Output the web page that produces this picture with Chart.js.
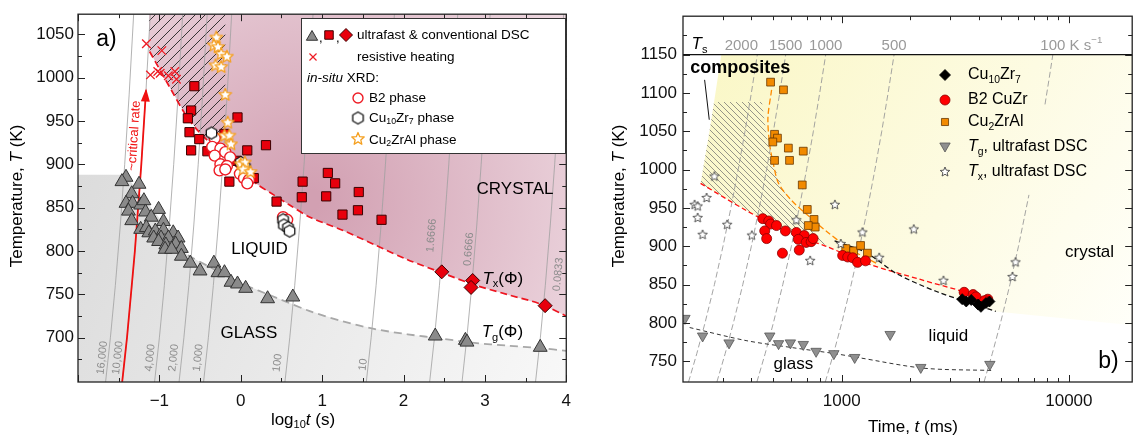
<!DOCTYPE html>
<html>
<head>
<meta charset="utf-8">
<script src="https://cdn.jsdelivr.net/npm/chart.js@4.4.0/dist/chart.umd.min.js"></script>
<style>
  html, body { margin: 0; padding: 0; background: #fff; }
  #wrap { position: relative; width: 1139px; height: 439px; overflow: hidden; }
  #boxA { position: absolute; left: 0; top: 0; width: 580px; height: 439px; }
  #boxB { position: absolute; left: 580px; top: 0; width: 559px; height: 439px; }
</style>
</head>
<body>
<div id="wrap">
  <div id="boxA"><canvas id="chartA"></canvas></div>
  <div id="boxB"><canvas id="chartB"></canvas></div>
</div>
<script>
const FONT = '"Liberation Sans", Arial, Helvetica, sans-serif';
const T_ROOM = 300; // heating starts from room temperature (K)

// ---------- panel a: log10 t (s) vs T (K) ----------
const xTicksA = [-1, 0, 1, 2, 3, 4];
const yTicksA = [700, 750, 800, 850, 900, 950, 1000, 1050];

// glass transition, ultrafast & conventional DSC (triangles)
const tgDscA = [[-1.41,885],[-1.46,880],[-1.25,877],[-1.34,866],[-1.41,855],[-1.33,855],[-1.23,853],[-1.19,858],
  [-1.38,846],[-1.17,845],[-1.01,848],[-1.34,835],[-1.10,839],[-0.95,834],[-1.23,825],[-1.16,827],[-1.13,821],
  [-1.05,823],[-0.95,824],[-0.83,821],[-1.07,815],[-0.98,815],[-0.89,815],[-0.77,815],[-1.01,811],[-0.92,807],
  [-0.80,808],[-0.73,803],[-0.93,802],[-0.85,802],[-0.73,794],[-0.62,786],[-0.33,786],[-0.50,777],[-0.28,775],
  [-0.20,775],[-0.12,764],[-0.04,762],[0.06,757],[0.33,745],[0.64,747],[2.39,702],[2.76,697],[2.78,695],[3.68,689]];
// crystallisation, ultrafast DSC (squares)
const txDscA = [[-0.57,990],[-0.61,962],[-0.65,953],[-0.63,937],[-0.51,929],[-0.61,916],[-0.41,915],[-0.20,935],
  [-0.04,954],[0.08,916],[0.31,922],[-0.05,904],[-0.14,880],[0.16,884],[0.44,857],[0.76,880],[0.75,862],
  [1.07,890],[1.16,878],[1.05,863],[1.45,868],[1.25,842],[1.44,847],[1.73,836]];
// crystallisation, conventional DSC (diamonds)
const txConvA = [[2.47,776],[2.85,766],[2.83,758],[3.74,737]];
const resistiveA = [[-1.16,1039],[-0.97,1031],[-1.11,1003],[-1.02,1007],[-0.99,1005],[-0.89,1002],[-0.81,1007],[-0.79,998]];
const b2XrdA = [[-0.32,930],[-0.35,920],[-0.25,918],[-0.32,910],[-0.19,914],[-0.13,908],[-0.25,900],[-0.17,898],
  [-0.26,893],[-0.19,894],[-0.01,889],[0.04,884],[0.10,882],[0.08,878],[0.52,839],[0.57,836]];
const cu10zr7XrdA = [[-0.36,936],[0.0,902],[0.05,897],[0.52,836],[0.53,830],[0.58,827],[0.60,823]];
const cu2zralXrdA = [[-0.30,1046],[-0.33,1037],[-0.28,1035],[-0.24,1027],[-0.17,1024],[-0.31,1014],[-0.24,1012],
  [-0.19,980],[-0.16,948],[-0.20,933],[-0.14,933],[-0.12,923],[0.0,900],[0.05,902],[0.03,894],[0.12,891]];

const txCurveA = [[-1.12,1030],[-0.85,985],[-0.69,959],[-0.53,939],[-0.3,918],[0,893],[0.2,877],[0.4,865],
  [0.6,853],[0.85,839],[1.25,824],[1.65,807],[2.05,790],[2.47,775],[2.87,761],[3.27,750],[3.68,739],[4.0,725]];
const tgCurveA = [[-0.65,795],[-0.37,781],[0,763],[0.44,746],[0.84,731],[1.25,719],[1.65,710],[2.05,704],
  [2.47,699],[2.87,694],[3.27,691],[3.68,688],[4.0,685]];
const glassEdgeA = [[-2,888],[-1.42,888],[-1.2,862],[-0.95,832]];
const crystalTopA = [[-1.13,1073]];
const hatchA = [[-1.13,1073],[-0.19,1073],[-0.19,932],[-0.45,930],[-0.53,939],[-0.69,959],[-0.85,985],[-1.12,1030],[-1.13,1073]];

// constant heating rates (K/s)
const ratesA = [16000, 10000, 4000, 2000, 1000, 100, 10, 1.6666, 0.6666, 0.0833];
const rateTextA = ['16,000', '10,000', '4,000', '2,000', '1,000', '100', '10', '1.6666', '0.6666', '0.0833'];
const rateLabelTA = [677, 677, 677, 677, 677, 671, 669, 818, 802, 773];
const rateLabelDxA = [-6, -7, -7, -8, -8, -9.5, -5, -12, -6, 12];
const isoTempsA = [649, 700, 760, 830, 900, 980, 1073];
const criticalRateA = 10000;
const criticalTempsA = [649, 700, 800, 900, 985];

// ---------- panel b: time (ms) vs T (K) ----------
const xTicksB = [1000, 10000];
const xMinorB = [300, 400, 500, 600, 700, 800, 900, 2000, 3000, 4000, 5000, 6000, 7000, 8000, 9000];
const yTicksB = [750, 800, 850, 900, 950, 1000, 1050, 1100, 1150];
const tSolidus = 1150;

const cu10zr7B = [[3390,831],[3532,828],[3715,830],[3981,824],[4100,821],[4315,826],[4470,828]];
const b2CuZrB = [[449,936],[477,933],[486,929],[516,927],[458,920],[565,920],[467,910],[631,918],[684,914],
  [644,909],[697,905],[733,906],[748,910],[548,891],[650,895],[1009,888],[1062,886],[1117,885],[1174,879],
  [1272,881],[3458,840],[3787,837],[3900,834],[4396,831],[4250,829]];
const cu2zralB = [[486,1114],[554,1104],[506,1046],[521,1041],[497,1036],[582,1028],[677,1024],[506,1012],
  [589,1012],[670,980],[705,948],[755,935],[764,925],[712,927],[1041,897],[1128,894],[1210,901],[1297,891]];
const tgUltraB = [[204,806],[244,783],[319,774],[482,783],[527,773],[594,774],[677,772],[771,763],[923,760],
  [1140,755],[1633,785],[2228,742],[4488,746]];
const txUltraB = [[275,991],[254,963],[225,954],[232,952],[232,937],[313,928],[244,915],[402,914],[631,934],
  [726,881],[933,954],[1233,918],[990,903],[1462,885],[2075,922],[2805,855],[5821,879],[5646,860]];

const b2CurveB = [[239,982],[378,947],[582,918],[869,899],[1337,876],[2200,857],[3428,841],[4445,831]];
const cu10zr7CurveB = [[930,907],[1259,893],[1435,882],[1751,864],[2614,841],[4766,815]];
const cu2zralCurveB = [[491,1104],[473,1067],[482,1032],[501,1006],[527,982],[600,960],[711,940],[869,918],[1094,896],[1435,877]];
const tgCurveB = [[214,794],[379,777],[600,768],[932,760],[1174,755],[2296,741],[4678,738]];
const crystalB = [[239,982],[265,1060],[295,1150],[19000,1150],[19000,797],[4766,815],[2614,841],[1751,864],
  [1337,876],[869,899],[582,918],[378,947],[239,982]];
const hatchB = [[239,982],[265,1060],[274,1088],[445,1088],[468,1042],[501,1006],[565,968],[644,943],[748,920],
  [880,900],[582,918],[378,947],[239,982]];
const pointerB = [[249,1117],[261,1065]];

const ratesB = [2000, 1500, 1000, 500, 100];
const rateTextB = ['2000', '1500', '1000', '500', '100'];
const rateLabelDxB = [-16, 0, 0, 0, 0];
const isoTempsB = [723, 760, 800, 850, 900, 950, 1000, 1050, 1100, 1150];
const isoGapB = { rate: 100, from: 967, to: 1085 }; // hidden behind the legend

// ---------- helpers ----------
const xy = pts => pts.map(([x, y]) => ({ x, y }));

function markers(pts, style, r, fill, stroke, lw, order, rot) {
  return { data: xy(pts), showLine: false, pointStyle: style, pointRadius: r, pointBackgroundColor: fill,
    pointBorderColor: stroke, pointBorderWidth: lw, pointRotation: rot || 0, order };
}
function curve(pts, color, lw, dash, order, tension) {
  return { data: xy(pts), borderColor: color, borderWidth: lw, borderDash: dash || [], pointRadius: 0,
    fill: false, tension: tension || 0, order };
}
function area(pts, bg, fill, order) {
  return { data: xy(pts), borderWidth: 0, borderColor: 'rgba(0,0,0,0)', backgroundColor: bg,
    pointRadius: 0, fill, tension: 0, order };
}
function isoLine(rate, temps, ms) {
  return temps.map(T => [ms ? (T - T_ROOM) / rate * 1000 : Math.log10((T - T_ROOM) / rate), T]);
}

function hatch(gap, color, lw, rising) {
  const c = document.createElement('canvas');
  c.width = c.height = gap;
  const g = c.getContext('2d');
  g.strokeStyle = color;
  g.lineWidth = lw;
  g.beginPath();
  if (rising) {
    g.moveTo(0, gap); g.lineTo(gap, 0);
    g.moveTo(-1, 1); g.lineTo(1, -1);
    g.moveTo(gap - 1, gap + 1); g.lineTo(gap + 1, gap - 1);
  } else {
    g.moveTo(0, 0); g.lineTo(gap, gap);
    g.moveTo(-1, gap - 1); g.lineTo(1, gap + 1);
    g.moveTo(gap - 1, -1); g.lineTo(gap + 1, 1);
  }
  g.stroke();
  return g.createPattern(c, 'repeat');
}

function polyImage(n, r, inner, fill, stroke, lw) {
  const s = Math.ceil(2 * r + 2 * lw + 2);
  const c = document.createElement('canvas');
  c.width = c.height = s;
  const g = c.getContext('2d');
  const m = s / 2;
  const k = inner ? 2 * n : n;
  g.beginPath();
  for (let i = 0; i < k; i++) {
    const rr = inner && i % 2 ? r * inner : r;
    const a = -Math.PI / 2 + i * 2 * Math.PI / k;
    g.lineTo(m + rr * Math.cos(a), m + rr * Math.sin(a));
  }
  g.closePath();
  g.fillStyle = fill; g.fill();
  g.strokeStyle = stroke; g.lineWidth = lw; g.lineJoin = 'round'; g.stroke();
  return c;
}

function drawRich(ctx, parts, x, y, o) {
  const size = o.size;
  const fontFor = st => {
    const small = st.includes('sub') || st.includes('sup');
    return (st.includes('i') && !st.startsWith('s') || st.startsWith('is') ? 'italic ' : '') +
      (st.includes('b') && !st.includes('sub') ? 'bold ' : '') + (small ? size * 0.65 : size) + 'px ' + FONT;
  };
  let w = 0;
  parts.forEach(p => { ctx.font = fontFor(p[1]); w += ctx.measureText(p[0]).width; });
  ctx.save();
  ctx.translate(x, y);
  if (o.rotate) ctx.rotate(o.rotate);
  let cx = o.align === 'center' ? -w / 2 : o.align === 'right' ? -w : 0;
  ctx.textBaseline = 'middle';
  ctx.textAlign = 'left';
  ctx.fillStyle = o.color || '#000';
  parts.forEach(p => {
    ctx.font = fontFor(p[1]);
    const dy = p[1].includes('sub') ? size * 0.3 : p[1].includes('sup') ? -size * 0.35 : 0;
    ctx.fillText(p[0], cx, dy);
    cx += ctx.measureText(p[0]).width;
  });
  ctx.restore();
}

function legendMarker(ctx, style, r, fill, stroke, lw, x, y, rot) {
  ctx.save();
  ctx.fillStyle = fill;
  ctx.strokeStyle = stroke;
  ctx.lineWidth = lw;
  Chart.helpers.drawPoint(ctx, { pointStyle: style, radius: r, rotation: rot || 0, borderWidth: lw }, x, y);
  ctx.restore();
}

// frame with inward major / minor ticks on all four sides
const frameTicks = {
  id: 'frameTicks',
  afterDatasetsDraw(chart, args, opts) {
    const { ctx, chartArea: a, scales: { x, y } } = chart;
    ctx.save();
    ctx.strokeStyle = '#222';
    ctx.lineWidth = 1.3;
    ctx.strokeRect(a.left, a.top, a.right - a.left, a.bottom - a.top);
    ctx.lineWidth = 1;
    ctx.beginPath();
    const mark = (vals, len, isX) => vals.forEach(v => {
      if (isX) {
        const p = Math.round(x.getPixelForValue(v)) + 0.5;
        ctx.moveTo(p, a.bottom); ctx.lineTo(p, a.bottom - len);
        ctx.moveTo(p, a.top); ctx.lineTo(p, a.top + len);
      } else {
        const p = Math.round(y.getPixelForValue(v)) + 0.5;
        ctx.moveTo(a.left, p); ctx.lineTo(a.left + len, p);
        ctx.moveTo(a.right, p); ctx.lineTo(a.right - len, p);
      }
    });
    mark(opts.xMajor, 7, true);
    mark(opts.xMinor, 4, true);
    mark(opts.yMajor, 7, false);
    mark(opts.yMinor, 4, false);
    ctx.stroke();
    ctx.restore();
  }
};

function scaleOpts(min, max, ticks, fmt, size, pad, fit, type) {
  return {
    type: type || 'linear', min, max,
    grid: { display: false, drawTicks: false }, border: { display: false },
    ticks: { font: { family: FONT, size }, color: '#111', padding: pad, autoSkip: false, maxRotation: 0, callback: fmt },
    afterBuildTicks: s => { s.ticks = ticks.map(v => ({ value: v })); },
    afterFit: fit
  };
}

// ---------- chart a ----------
const starOrange = polyImage(5, 6.5, 0.45, '#fff', '#f5a020', 1.3);
const hexBlack = polyImage(6, 6, 0, '#fff', '#111', 1.3);
const patternA = hatch(10, '#222', 0.9, true);

const pinkFill = c => {
  const a = c.chart.chartArea;
  if (!a) return 'rgba(0,0,0,0)';
  const g = c.chart.ctx.createRadialGradient(310, 200, 10, 310, 200, 380);
  g.addColorStop(0, 'rgb(210,160,178)');
  g.addColorStop(1, 'rgb(243,228,234)');
  return g;
};
const greyFill = c => {
  const a = c.chart.chartArea;
  if (!a) return 'rgba(0,0,0,0)';
  const g = c.chart.ctx.createLinearGradient(a.left, 180, a.right, a.bottom);
  g.addColorStop(0, 'rgb(220,220,220)');
  g.addColorStop(1, 'rgb(248,248,248)');
  return g;
};

const datasetsA = [
  area(crystalTopA.concat(txCurveA), pinkFill, 'end', 100),
  area(glassEdgeA.concat(tgCurveA), greyFill, 'start', 99),
  area(hatchA, patternA, 'shape', 98),
  ...ratesA.map(r => curve(isoLine(r, isoTempsA), '#a0a0a0', 0.8, [], 90)),
  curve(isoLine(criticalRateA, criticalTempsA), '#f01010', 1.8, [], 80),
  curve(tgCurveA, '#a8a8a8', 1.8, [8, 5], 70, 0.3),
  curve(txCurveA, '#ee1520', 1.7, [7, 4], 70, 0.3),
  markers(tgDscA, 'triangle', 8, '#8a8a8a', '#333', 1, 20),
  markers(txDscA, 'rect', 6.5, '#e8000c', '#3a0000', 1, 19),
  markers(txConvA, 'rectRot', 7, '#e8000c', '#3a0000', 1, 18),
  markers(resistiveA, 'crossRot', 6, '#ee1c25', '#ee1c25', 1.3, 17),
  markers(b2XrdA, 'circle', 5.5, '#fff', '#ee1c25', 1.4, 16),
  markers(cu10zr7XrdA, hexBlack, 6, '#fff', '#111', 1, 15),
  markers(cu2zralXrdA, starOrange, 6, '#fff', '#f5a020', 1, 14)
];

const decorA = {
  id: 'decorA',
  afterDatasetsDraw(chart) {
    const { ctx, scales: { x, y } } = chart;
    const P = (a, b) => [x.getPixelForValue(a), y.getPixelForValue(b)];
    const alongRate = (rate, T) => {
      const p0 = P(Math.log10((T - 10 - T_ROOM) / rate), T - 10);
      const p1 = P(Math.log10((T + 10 - T_ROOM) / rate), T + 10);
      return { c: P(Math.log10((T - T_ROOM) / rate), T), ang: Math.atan2(p1[1] - p0[1], p1[0] - p0[0]) };
    };

    // rate labels along the iso-rate lines
    ratesA.forEach((r, i) => {
      const { c, ang } = alongRate(r, rateLabelTA[i]);
      drawRich(ctx, [[rateTextA[i], '']], c[0] + rateLabelDxA[i], c[1], { size: 11, color: '#8c8c8c', align: 'center', rotate: ang });
    });

    // arrow head of the critical-rate line
    const tTop = criticalTempsA[criticalTempsA.length - 1];
    const tip = alongRate(criticalRateA, tTop);
    ctx.save();
    ctx.translate(tip.c[0], tip.c[1]);
    ctx.rotate(tip.ang);
    ctx.fillStyle = '#f01010';
    ctx.beginPath();
    ctx.moveTo(2, 0); ctx.lineTo(-11, -4.5); ctx.lineTo(-11, 4.5); ctx.closePath();
    ctx.fill();
    ctx.restore();
    const lab = alongRate(criticalRateA, 933);
    drawRich(ctx, [['~critical rate', '']], lab.c[0] - 9, lab.c[1], { size: 13, color: '#f01010', align: 'center', rotate: lab.ang });

    // region and curve labels
    const t = (parts, a, b, o) => { const p = P(a, b); drawRich(ctx, parts, p[0], p[1], o); };
    t([['a)', '']], -1.776, 1044, { size: 23, align: 'left' });
    t([['CRYSTAL', '']], 3.37, 871, { size: 17, align: 'center' });
    t([['LIQUID', '']], 0.23, 802, { size: 17, align: 'center' });
    t([['GLASS', '']], 0.1, 705, { size: 17, align: 'center' });
    t([['T', 'i'], ['x', 'sub'], ['(Φ)', '']], 2.97, 767.5, { size: 17, align: 'left' });
    t([['T', 'i'], ['g', 'sub'], ['(Φ)', '']], 2.96, 706, { size: 17, align: 'left' });

    // legend box
    ctx.save();
    ctx.fillStyle = '#fff';
    ctx.fillRect(301, 18, 264, 135);
    ctx.strokeStyle = '#333';
    ctx.lineWidth = 1;
    ctx.strokeRect(301.5, 18.5, 264, 135);
    ctx.restore();
    legendMarker(ctx, 'triangle', 6.5, '#8a8a8a', '#333', 1, 312, 37);
    drawRich(ctx, [[',', '']], 319, 38, { size: 13 });
    legendMarker(ctx, 'rect', 6, '#e8000c', '#3a0000', 1, 329, 35);
    drawRich(ctx, [[',', '']], 336, 38, { size: 13 });
    legendMarker(ctx, 'rectRot', 6.5, '#e8000c', '#3a0000', 1, 346, 35);
    drawRich(ctx, [['ultrafast & conventional DSC', '']], 357, 35, { size: 13.5 });
    legendMarker(ctx, 'crossRot', 5, '#ee1c25', '#ee1c25', 1.2, 313, 57);
    drawRich(ctx, [['resistive heating', '']], 357, 57, { size: 13.5 });
    drawRich(ctx, [['in-situ', 'i'], [' XRD:', '']], 307, 78, { size: 13.5 });
    legendMarker(ctx, 'circle', 5, '#fff', '#ee1c25', 1.4, 358, 98);
    drawRich(ctx, [['B2 phase', '']], 369, 98, { size: 13.5 });
    legendMarker(ctx, hexBlack, 6, '#fff', '#111', 1, 358, 118);
    drawRich(ctx, [['Cu', ''], ['10', 'sub'], ['Zr', ''], ['7', 'sub'], [' phase', '']], 369, 118, { size: 13.5 });
    legendMarker(ctx, starOrange, 6, '#fff', '#f5a020', 1, 358, 139);
    drawRich(ctx, [['Cu', ''], ['2', 'sub'], ['ZrAl phase', '']], 369, 140, { size: 13.5 });

    // axis titles
    drawRich(ctx, [['Temperature, ', ''], ['T', 'i'], [' (K)', '']], 17, 196, { size: 17, align: 'center', rotate: -Math.PI / 2 });
    drawRich(ctx, [['log', ''], ['10', 'sub'], ['t', 'i'], [' (s)', '']], 303, 420, { size: 17, align: 'center' });
  }
};

new Chart(document.getElementById('chartA'), {
  type: 'line',
  data: { datasets: datasetsA },
  options: {
    responsive: true,
    maintainAspectRatio: false,
    animation: false,
    events: [],
    layout: { padding: { top: 10, right: 7, left: 0, bottom: 0 } },
    plugins: {
      legend: { display: false },
      tooltip: { enabled: false },
      frameTicks: {
        xMajor: [-2, -1, 0, 1, 2, 3, 4],
        xMinor: [-1.5, -0.5, 0.5, 1.5, 2.5, 3.5],
        yMajor: yTicksA,
        yMinor: [675, 725, 775, 825, 875, 925, 975, 1025]
      }
    },
    scales: {
      x: scaleOpts(-2, 4, xTicksA, v => (v < 0 ? '\u2212' + Math.abs(v) : String(v)), 17, 9, s => { s.height = 57; }),
      y: scaleOpts(649, 1073, yTicksA, v => String(v), 17, 4, s => { s.width = 78; })
    }
  },
  plugins: [frameTicks, decorA]
});

// ---------- chart b ----------
const starWhite = polyImage(5, 5, 0.45, '#fff', '#444', 0.9);
const patternB = hatch(6, '#6a6a6a', 0.7, false);

const yellowFill = c => {
  const a = c.chart.chartArea;
  if (!a) return 'rgba(0,0,0,0)';
  const g = c.chart.ctx.createLinearGradient(120, 60, a.right, a.bottom - 40);
  g.addColorStop(0, 'rgb(250,247,198)');
  g.addColorStop(0.55, 'rgb(253,251,226)');
  g.addColorStop(1, 'rgb(255,255,250)');
  return g;
};

const isoB = [];
ratesB.forEach(r => {
  if (r === isoGapB.rate) {
    isoB.push(isoLine(r, [723, 760, 800, 850, 900, isoGapB.from], true));
    isoB.push(isoLine(r, [isoGapB.to, 1120, 1150], true));
  } else {
    isoB.push(isoLine(r, isoTempsB, true));
  }
});

const datasetsB = [
  area(crystalB, yellowFill, 'shape', 100),
  area(hatchB, patternB, 'shape', 98),
  ...isoB.map(pts => curve(pts, '#9a9a9a', 0.9, [6, 3], 90)),
  curve([[200, tSolidus], [19000, tSolidus]], '#111', 1.2, [], 85),
  curve(pointerB, '#111', 1, [], 85),
  curve(cu2zralCurveB, '#ff8a00', 1.3, [6, 3], 72, 0.3),
  curve(b2CurveB, '#ff1010', 1.3, [5, 3], 71, 0.3),
  curve(cu10zr7CurveB, '#111', 1.3, [5, 3], 70, 0.3),
  curve(tgCurveB, '#333', 1, [4, 3], 70, 0.3),
  markers(tgUltraB, 'triangle', 6, '#8f8f8f', '#555', 0.8, 20, 180),
  markers(cu2zralB, 'rect', 5.5, '#f28a00', '#6a3800', 0.8, 18),
  markers(b2CuZrB, 'circle', 5, '#ff0000', '#8a0000', 0.8, 17),
  markers(cu10zr7B, 'rectRot', 5.5, '#000', '#000', 0.8, 16),
  markers(txUltraB, starWhite, 5, '#fff', '#444', 0.8, 15)
];

const decorB = {
  id: 'decorB',
  afterDatasetsDraw(chart) {
    const { ctx, scales: { x, y } } = chart;
    const P = (a, b) => [x.getPixelForValue(a), y.getPixelForValue(b)];
    const t = (parts, a, b, o) => { const p = P(a, b); drawRich(ctx, parts, p[0], p[1], o); };

    // heating-rate labels above the solidus line
    const yLab = y.getPixelForValue(tSolidus) - 9;
    ratesB.forEach((r, i) => {
      const px = x.getPixelForValue((tSolidus - T_ROOM) / r * 1000) + rateLabelDxB[i];
      if (i === ratesB.length - 1) {
        ctx.font = '15px ' + FONT;
        const w = ctx.measureText(rateTextB[i]).width;
        drawRich(ctx, [[rateTextB[i] + ' K s', ''], ['\u22121', 'sup']], px - w / 2, yLab, { size: 15, color: '#999' });
      } else {
        drawRich(ctx, [[rateTextB[i], '']], px, yLab, { size: 15, color: '#999', align: 'center' });
      }
    });

    t([['T', 'i'], ['s', 'sub']], 218, 1163, { size: 17, align: 'left' });
    t([['composites', 'b']], 357, 1132, { size: 18, align: 'center' });
    t([['crystal', '']], 12330, 892, { size: 17, align: 'center' });
    t([['liquid', '']], 2950, 783, { size: 17, align: 'center' });
    t([['glass', '']], 612, 746, { size: 17, align: 'center' });
    t([['b)', '']], 14930, 749, { size: 23, align: 'center' });

    // legend
    const lx = 365, tx = 388;
    legendMarker(ctx, 'rectRot', 5.5, '#000', '#000', 0.8, lx, 75);
    drawRich(ctx, [['Cu', ''], ['10', 'sub'], ['Zr', ''], ['7', 'sub']], tx, 75, { size: 16 });
    legendMarker(ctx, 'circle', 5, '#ff0000', '#8a0000', 0.8, lx, 100);
    drawRich(ctx, [['B2 CuZr', '']], tx, 100, { size: 16 });
    legendMarker(ctx, 'rect', 5, '#f28a00', '#6a3800', 0.8, lx, 122);
    drawRich(ctx, [['Cu', ''], ['2', 'sub'], ['ZrAl', '']], tx, 122, { size: 16 });
    legendMarker(ctx, 'triangle', 6, '#8f8f8f', '#555', 0.8, lx, 146, 180);
    drawRich(ctx, [['T', 'i'], ['g', 'sub'], [', ultrafast DSC', '']], tx, 147, { size: 16 });
    legendMarker(ctx, starWhite, 5, '#fff', '#444', 0.8, lx, 172);
    drawRich(ctx, [['T', 'i'], ['x', 'sub'], [', ultrafast DSC', '']], tx, 172, { size: 16 });

    // axis titles
    drawRich(ctx, [['Temperature, ', ''], ['T', 'i'], [' (K)', '']], 39, 196, { size: 17, align: 'center', rotate: -Math.PI / 2 });
    drawRich(ctx, [['Time, ', ''], ['t', 'i'], [' (ms)', '']], 333, 427, { size: 17, align: 'center' });
  }
};

new Chart(document.getElementById('chartB'), {
  type: 'line',
  data: { datasets: datasetsB },
  options: {
    responsive: true,
    maintainAspectRatio: false,
    animation: false,
    events: [],
    layout: { padding: { top: 10, right: 1, left: 0, bottom: 0 } },
    plugins: {
      legend: { display: false },
      tooltip: { enabled: false },
      frameTicks: {
        xMajor: xTicksB,
        xMinor: xMinorB,
        yMajor: yTicksB,
        yMinor: [775, 825, 875, 925, 975, 1025, 1075, 1125, 1175]
      }
    },
    scales: {
      x: scaleOpts(200, 19000, xTicksB, v => String(v), 17, 9, s => { s.height = 57; }, 'logarithmic'),
      y: scaleOpts(723, 1200, yTicksB, v => String(v), 17, 6, s => { s.width = 103; })
    }
  },
  plugins: [frameTicks, decorB]
});
</script>
</body>
</html>
